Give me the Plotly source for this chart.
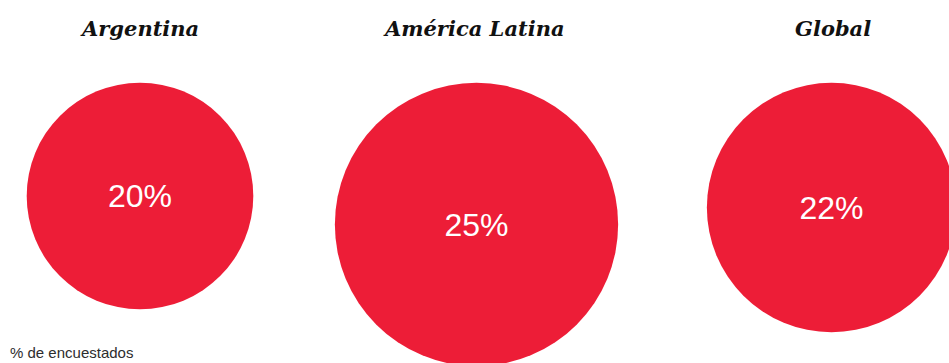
import plotly.graph_objects as go

# Share of respondents per region
regions = ["Argentina", "América Latina", "Global"]
values = [20, 25, 22]
value_labels = ["20%", "25%", "22%"]
footnote = "% de encuestados"

W, H = 949, 363
RED = "#ED1D37"

# layout positions (pixel space)
cx = [140, 476.5, 831.5]
cy = [196, 224.5, 207.5]
title_x = [139, 474, 833]
title_y = 28
px_per_unit = 11.33  # circle diameter grows linearly with the value

diams = [v * px_per_unit for v in values]

fig = go.Figure()
fig.add_trace(go.Scatter(
    x=cx, y=cy,
    mode="markers",
    marker=dict(size=diams, sizemode="diameter", color=RED, opacity=1,
                line=dict(width=0)),
    cliponaxis=False,
    hoverinfo="skip",
))
fig.add_trace(go.Scatter(
    x=cx, y=[y + 3 for y in cy],
    mode="text",
    text=value_labels,
    textposition="middle center",
    textfont=dict(family="Liberation Sans, Arial, sans-serif", size=32, color="white"),
    cliponaxis=False,
    hoverinfo="skip",
))

for name, tx in zip(regions, title_x):
    fig.add_annotation(
        x=tx, y=title_y, xref="x", yref="y",
        text=f"<b><i>{name}</i></b>",
        showarrow=False,
        font=dict(family="DejaVu Serif, Georgia, serif", size=21, color="#111111"),
        xanchor="center", yanchor="middle",
    )

fig.add_annotation(
    x=8, y=352, xref="x", yref="y",
    text=footnote, showarrow=False,
    font=dict(family="Liberation Sans, Arial, sans-serif", size=15, color="#2d2d2d"),
    xanchor="left", yanchor="middle",
)

fig.update_layout(
    width=W, height=H,
    margin=dict(l=0, r=0, t=0, b=0),
    paper_bgcolor="white", plot_bgcolor="white",
    showlegend=False,
    xaxis=dict(range=[0, W], visible=False, fixedrange=True),
    yaxis=dict(range=[H, 0], visible=False, fixedrange=True),
)

fig.write_html("out.html")
